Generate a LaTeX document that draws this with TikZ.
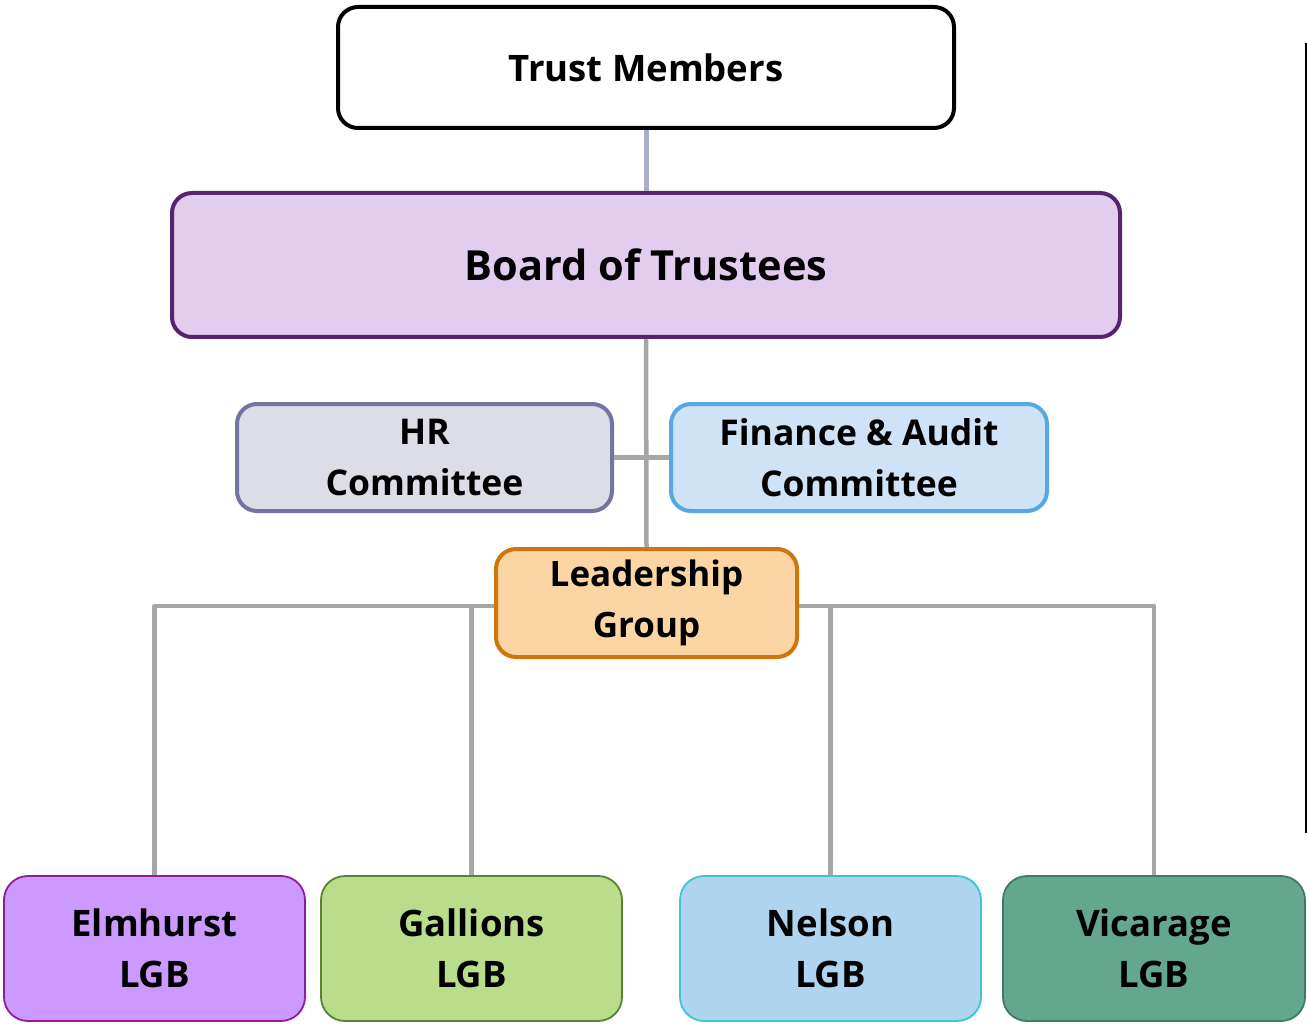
\documentclass[tikz,border=0pt]{standalone}
\usepackage{fontspec}
\setmainfont{Open Sans}
\definecolor{bfill}{HTML}{E2CDEF}
\definecolor{bdraw}{HTML}{56246F}
\definecolor{hfill}{HTML}{DDDDE8}
\definecolor{hdraw}{HTML}{7474A0}
\definecolor{ffill}{HTML}{CFE3F7}
\definecolor{fdraw}{HTML}{56A8E2}
\definecolor{lfill}{HTML}{FBD5A4}
\definecolor{ldraw}{HTML}{CF7509}
\definecolor{efill}{HTML}{CC99FF}
\definecolor{edraw}{HTML}{8E1C9E}
\definecolor{gfill}{HTML}{B9DD8B}
\definecolor{gdraw}{HTML}{5A8236}
\definecolor{nfill}{HTML}{AED4F0}
\definecolor{ndraw}{HTML}{3EC6CC}
\definecolor{vfill}{HTML}{63A88E}
\definecolor{vdraw}{HTML}{3F7A63}
\definecolor{conn}{HTML}{A6A6A6}
\definecolor{topconn}{HTML}{A9ADC8}
\begin{document}
\begin{tikzpicture}[x=1pt,y=-1pt,
  box/.style={draw, rounded corners=20pt, align=center, inner sep=0pt, line width=4pt, font=\bfseries\fontsize{35.5}{51}\selectfont},
  lgb/.style={box, line width=1.8pt, minimum width=301pt, minimum height=145pt, rounded corners=24pt, font=\bfseries\fontsize{36.5}{51}\selectfont},
  link/.style={draw=conn, line width=4.5pt}
]
\useasboundingbox (0,0) rectangle (1307,1024);
\fill[white] (0,0) rectangle (1307,1024);

\coordinate (lb) at (154.5,606);
\coordinate (rb) at (1154,606);
\coordinate (gb) at (471.5,606);
\coordinate (nb) at (830.5,606);

\node[box, minimum width=616pt, minimum height=121pt, font=\bfseries\fontsize{36.5}{44}\selectfont] (tm) at (646,67.5) {Trust Members};
\node[box, fill=bfill, draw=bdraw, minimum width=948pt, minimum height=144pt, font=\bfseries\fontsize{41.5}{56}\selectfont] (bt) at (646,265) {Board of Trustees};
\node[box, fill=hfill, draw=hdraw, minimum width=375pt, minimum height=107pt] (hr) at (424.5,457.5) {HR\\Committee};
\node[box, fill=ffill, draw=fdraw, minimum width=376pt, minimum height=107pt] (fa) at (859,457.5) {Finance \& Audit\\Committee};
\node[box, fill=lfill, draw=ldraw, minimum width=301pt, minimum height=108pt, font=\bfseries\fontsize{35}{51}\selectfont] (lg) at (646.5,603) {Leadership\\Group};
\node[lgb, fill=efill, draw=edraw] (el) at (154.5,948.5) {Elmhurst\\LGB};
\node[lgb, fill=gfill, draw=gdraw] (ga) at (471.5,948.5) {Gallions\\LGB};
\node[lgb, fill=nfill, draw=ndraw] (ne) at (830.5,948.5) {Nelson\\LGB};
\node[lgb, fill=vfill, draw=vdraw, minimum width=302pt] (vi) at (1154,948.5) {Vicarage\\LGB};

\draw[draw=topconn, line width=5pt] (tm.south) -- (bt.north);
\draw[link] (bt.south) -- (lg.north);
\draw[link] (hr.east) -- (fa.west);
\draw[link, line join=round] (lg.west |- lb) -- (lb) -- (el.north);
\draw[link] (gb) -- (ga.north);
\draw[link, line join=round] (lg.east |- rb) -- (rb) -- (vi.north);
\draw[link] (nb) -- (ne.north);

\draw[black, line width=2pt] (1308,44) -- (1305.5,44) -- (1305.5,832) -- (1308,832);
\end{tikzpicture}
\end{document}
